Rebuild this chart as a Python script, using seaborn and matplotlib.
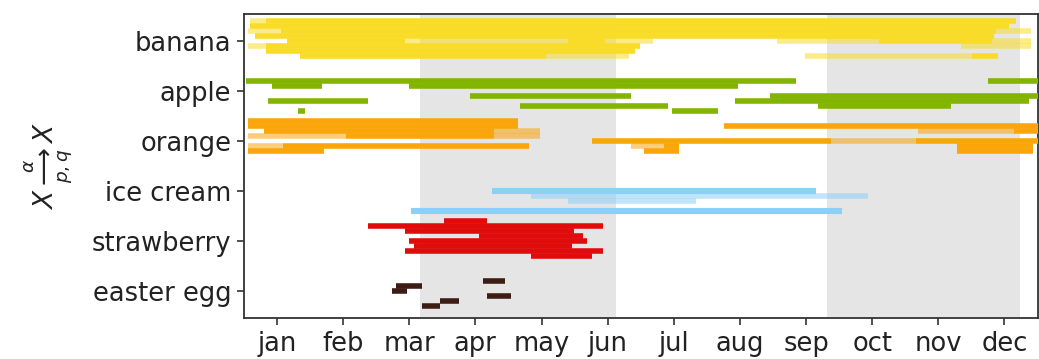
import numpy as np
import pandas as pd
import matplotlib
matplotlib.use("Agg")
import matplotlib.pyplot as plt
import seaborn as sns

# ---------------- data ----------------
categories = ["banana", "apple", "orange", "ice cream", "strawberry", "easter egg"]
months = ["jan", "feb", "mar", "apr", "may", "jun",
          "jul", "aug", "sep", "oct", "nov", "dec"]

# seasons shaded (day of year): spring equinox->summer solstice, autumn equinox->winter solstice
season_spans = [(81, 171), (268, 357)]

# availability periods: (lane, start_day, end_day)
banana_main = [(0, 10, 355), (1, 3, 352), (2, 17, 346), (3, 5, 345),
               (4, 20, 74), (4, 149, 166), (4, 292, 344),
               (5, 10, 182), (6, 10, 180), (7, 26, 139), (7, 335, 347)]
banana_faint = [(0, 3, 10), (2, 2, 17), (2, 346, 362), (4, 74, 149), (4, 166, 188),
                (4, 245, 292), (4, 344, 362), (5, 2, 10), (5, 330, 362),
                (7, 139, 177), (7, 258, 335)]

apple_main = [(2, 1, 254), (2, 342, 365), (3, 13, 36), (3, 76, 227),
              (5, 104, 178), (5, 242, 365), (6, 11, 57), (6, 226, 361),
              (7, 127, 195), (7, 264, 325), (8, 25, 28), (8, 197, 218)]
apple_faint = []

orange_main = [(0, 2, 126), (1, 2, 126), (1, 221, 365), (2, 9, 115), (2, 354, 365),
               (3, 47, 115), (4, 160, 270), (4, 309, 365),
               (5, 18, 131), (5, 193, 200), (5, 328, 363),
               (6, 2, 37), (6, 184, 200), (6, 328, 363)]
orange_faint = [(2, 115, 136), (2, 310, 354), (3, 2, 47), (3, 115, 136),
                (4, 270, 309), (5, 2, 18), (5, 178, 193)]

icecream_main = [(4, 114, 263), (8, 77, 275)]
icecream_faint = [(5, 132, 287), (6, 149, 208)]

strawberry_main = [(0, 92, 112), (1, 57, 165), (2, 74, 152), (3, 108, 156),
                   (4, 76, 158), (5, 78, 151), (6, 74, 165), (7, 132, 160)]
strawberry_faint = []

easteregg_main = [(2, 110, 120), (3, 70, 82), (4, 68, 75), (5, 112, 123),
                  (6, 90, 99), (7, 82, 90)]
easteregg_faint = []

main_segments = [banana_main, apple_main, orange_main, icecream_main,
                 strawberry_main, easteregg_main]
faint_segments = [banana_faint, apple_faint, orange_faint, icecream_faint,
                  strawberry_faint, easteregg_faint]

colors = ["#f9dc28", "#82b400", "#faa50a", "#8dd0f6", "#e00b0b", "#3d1c16"]

# ---------------- build table ----------------
rows = []
for ci, (cat, mains, faints) in enumerate(zip(categories, main_segments, faint_segments)):
    for lane, s, e in mains:
        rows.append(dict(category=cat, idx=ci, lane=lane, start=s, end=e, faint=False))
    for lane, s, e in faints:
        rows.append(dict(category=cat, idx=ci, lane=lane, start=s, end=e, faint=True))
df = pd.DataFrame(rows)
df["y"] = df["idx"] + (df["lane"] - 4) * 0.1

# ---------------- plot ----------------
sns.set_theme(style="ticks")
plt.rcParams["font.family"] = ["DejaVu Sans"]
plt.rcParams["mathtext.fontset"] = "dejavusans"

fig = plt.figure(figsize=(10.39, 3.59), dpi=100)
ax = fig.add_axes([0.2348, 0.114, 0.7638, 0.847])

for s, e in season_spans:
    ax.axvspan(s, e, color="#e5e5e5", lw=0, zorder=0)

palette = dict(zip(categories, colors))
for faint, sub in df.groupby("faint"):
    for cat, g in sub.groupby("category"):
        ax.hlines(g["y"], g["start"], g["end"], colors=palette[cat],
                  linewidth=4.4 if cat == "ice cream" and not faint else 4.0,
                  alpha=0.55 if faint else 1.0,
                  zorder=2 if faint else 3)

ax.set_xlim(0, 365)
ax.set_ylim(5.54, -0.54)
ax.set_yticks(range(len(categories)))
ax.set_yticklabels(categories)
ax.set_xticks([(i + 0.5) * 365 / 12 for i in range(12)])
ax.set_xticklabels(months)
ax.tick_params(axis="both", labelsize=18.5, length=5, width=1.2, color="#333333",
               labelcolor="#222222", pad=4)
for sp in ax.spines.values():
    sp.set_color("#333333")
    sp.set_linewidth(1.3)
ax.set_ylabel(r"$X \overset{\alpha}{\underset{p,q}{\longrightarrow}} X$",
              fontsize=19, color="#222222", labelpad=12)
ax.grid(False)

fig.savefig("out.png", dpi=100)
